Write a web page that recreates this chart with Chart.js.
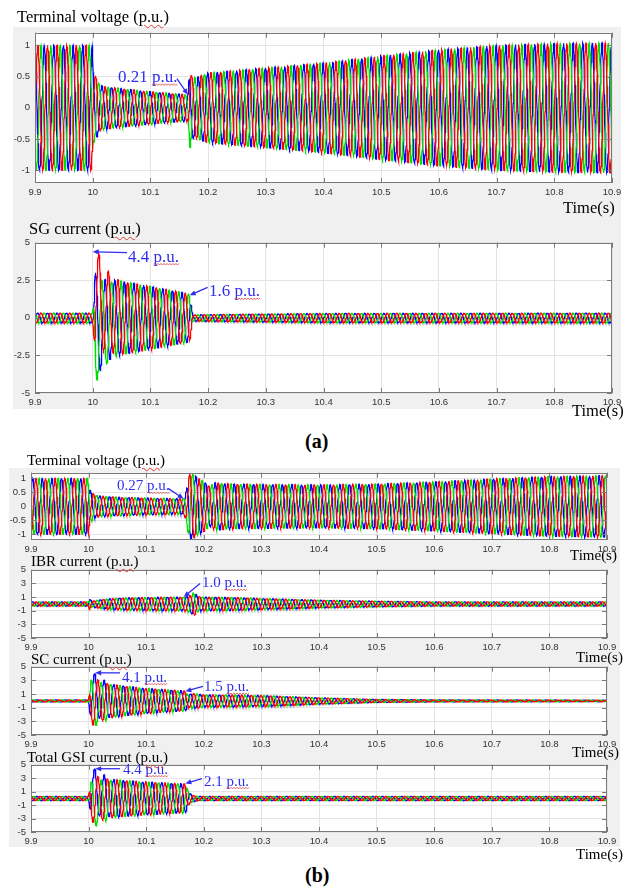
<!DOCTYPE html>
<html>
<head>
<meta charset="utf-8">
<script src="https://cdn.jsdelivr.net/npm/chart.js@4.4.0/dist/chart.umd.min.js"></script>
<style>
  body { margin: 0; width: 634px; height: 889px; position: relative; overflow: hidden; background: #fff;
         font-family: "Liberation Serif", "Times New Roman", serif; }
  .panel { position: absolute; background: #f0f0f0; }
  .lbl { position: absolute; white-space: nowrap; line-height: 1; color: #000; }
  .pu { text-decoration: underline wavy #e03a3a; text-decoration-thickness: 1px; text-underline-offset: 2px; }
  canvas { position: absolute; left: 0; }
</style>
</head>
<body>
<div class="panel" style="left:13px;top:27px;width:608px;height:382px"></div>
<div class="panel" style="left:9px;top:468px;width:611px;height:379px"></div>

<canvas id="c1"></canvas>
<canvas id="c2"></canvas>
<canvas id="c3"></canvas>
<canvas id="c4"></canvas>
<canvas id="c5"></canvas>
<canvas id="c6"></canvas>

<script>
// --- values ------------------------------------------------------------
const FREQ = 60;             // Hz, 6 cycles per 0.1 s in every panel
const T0 = 9.9, T1 = 10.9;

const xTicks = [9.9, 10.0, 10.1, 10.2, 10.3, 10.4, 10.5, 10.6, 10.7, 10.8, 10.9];
const xTickLabels = ['9.9', '10', '10.1', '10.2', '10.3', '10.4', '10.5', '10.6', '10.7', '10.8', '10.9'];
const voltTicks = [-1, -0.5, 0, 0.5, 1];
const voltTickLabels = ['-1', '-0.5', '0', '0.5', '1'];
const sgTicks = [-5, -2.5, 0, 2.5, 5];
const sgTickLabels = ['-5', '-2.5', '0', '2.5', '5'];
const curTicks = [-5, -3, -1, 1, 3, 5];
const curTickLabels = ['-5', '-3', '-1', '1', '3', '5'];

const phaseNames = ['a', 'b', 'c'];

// (a) terminal voltage: envelope amplitude (p.u.) at time points
const vaTime = [9.9, 10.0, 10.001, 10.006, 10.012, 10.02, 10.05, 10.1, 10.165, 10.1685, 10.172, 10.18, 10.19, 10.2, 10.3, 10.4, 10.5, 10.6, 10.7, 10.8, 10.9];
const vaAmp  = [1.0, 1.0, 0.56, 0.5, 0.37, 0.34, 0.31, 0.26, 0.21, 0.65, 0.5, 0.48, 0.53, 0.56, 0.64, 0.72, 0.83, 0.93, 1.0, 1.03, 1.04];
const vaCrest = 10.005;   // time of a phase-a crest

// (a) SG current
const sgTime = [9.9, 10.0, 10.004, 10.012, 10.02, 10.05, 10.1, 10.168, 10.173, 10.2, 10.4, 10.9];
const sgAmp  = [0.32, 0.32, 3.4, 3.3, 2.75, 2.45, 2.1, 1.6, 0.2, 0.22, 0.3, 0.32];
const sgOffTime = [10.0, 10.004, 10.02, 10.045];
const sgOffA = [0, 1.3, 0.6, 0];
const sgOffB = [0, -0.9, -0.4, 0];
const sgOffC = [0, -0.4, -0.2, 0];
const sgCrest = 10.0105;

// (b) terminal voltage
const vbTime = [9.9, 10.0, 10.001, 10.004, 10.01, 10.02, 10.05, 10.1, 10.165, 10.169, 10.175, 10.18, 10.19, 10.2, 10.21, 10.22, 10.25, 10.4, 10.5, 10.6, 10.7, 10.8, 10.9];
const vbAmp  = [1.0, 1.0, 0.62, 0.55, 0.42, 0.37, 0.33, 0.3, 0.27, 0.5, 1.2, 1.2, 1.0, 0.9, 0.72, 0.85, 0.8, 0.77, 0.8, 0.88, 0.98, 1.07, 1.1];
const vbCrest = 10.0086;

// (b) IBR current
const ibrTime = [9.9, 10.0, 10.001, 10.006, 10.02, 10.05, 10.1, 10.165, 10.176, 10.183, 10.19, 10.2, 10.25, 10.3, 10.4, 10.5, 10.6, 10.9];
const ibrAmp  = [0.3, 0.3, 0.8, 0.4, 0.6, 0.85, 0.95, 1.0, 1.2, 1.7, 1.1, 1.0, 0.95, 0.8, 0.55, 0.4, 0.3, 0.3];
const ibrCrest = 10.0093;

// (b) SC current
const scTime = [9.9, 10.0, 10.004, 10.012, 10.02, 10.05, 10.1, 10.168, 10.172, 10.18, 10.19, 10.2, 10.3, 10.4, 10.5, 10.6, 10.9];
const scAmp  = [0.15, 0.15, 3.5, 3.4, 2.9, 2.3, 1.85, 1.45, 0.9, 1.1, 1.0, 0.9, 0.8, 0.45, 0.22, 0.15, 0.12];
const scOffTime = [10.0, 10.004, 10.02, 10.045];
const scOffA = [0, -0.1, -0.05, 0];
const scOffB = [0, -0.4, -0.2, 0];
const scOffC = [0, 0.8, 0.4, 0];
const scCrest = 10.0161;

// (b) total GSI current
const gsiTime = [9.9, 10.0, 10.004, 10.012, 10.03, 10.05, 10.1, 10.168, 10.174, 10.18, 10.19, 10.9];
const gsiAmp  = [0.3, 0.3, 3.5, 3.4, 3.0, 2.75, 2.45, 2.15, 0.9, 0.5, 0.3, 0.3];
const gsiOffTime = [10.0, 10.004, 10.02, 10.045];
const gsiOffA = [0, -0.1, -0.05, 0];
const gsiOffB = [0, -1.0, -0.5, 0];
const gsiOffC = [0, 1.3, 0.6, 0];
const gsiCrest = 10.0161;

// --- helpers --------------------------------------------------------------
function interp(ts, vs, t) {
  if (t <= ts[0]) return vs[0];
  for (let i = 1; i < ts.length; i++) {
    if (t <= ts[i]) {
      const f = (t - ts[i - 1]) / (ts[i] - ts[i - 1]);
      return vs[i - 1] + f * (vs[i] - vs[i - 1]);
    }
  }
  return vs[vs.length - 1];
}

// three sinusoids under the read envelope, one per phase
function threePhase(times, amps, crest, offTime, offs) {
  const DT = 0.0004;
  const n = Math.round((T1 - T0) / DT);
  const out = [[], [], []];
  for (let i = 0; i <= n; i++) {
    const t = T0 + i * DT;
    const A = interp(times, amps, t);
    for (let k = 0; k < 3; k++) {
      const th = 2 * Math.PI * FREQ * (t - crest) - k * 2 * Math.PI / 3;
      const off = offTime ? interp(offTime, offs[k], t) : 0;
      out[k].push({ x: t, y: A * Math.cos(th) + off });
    }
  }
  return out;
}

const phaseColors = ['#ff0000', '#00dd00', '#0000ff'];

function wavy(ctx, x0, x1, y) {
  ctx.save();
  ctx.beginPath();
  ctx.moveTo(x0, y);
  let up = true;
  for (let x = x0 + 1.5; x <= x1; x += 1.5) { ctx.lineTo(x, y + (up ? -0.8 : 0.8)); up = !up; }
  ctx.strokeStyle = '#e04040';
  ctx.lineWidth = 0.8;
  ctx.stroke();
  ctx.restore();
}

const framePlugin = {
  id: 'frame',
  beforeDraw(chart) {
    const { ctx, chartArea: a } = chart;
    ctx.save();
    ctx.fillStyle = '#fff';
    ctx.fillRect(a.left, a.top, a.right - a.left, a.bottom - a.top);
    ctx.restore();
  },
  afterDatasetsDraw(chart, args, opts) {
    const { ctx, chartArea: a, scales } = chart;
    ctx.save();
    ctx.strokeStyle = '#7a7a7a';
    ctx.lineWidth = 1;
    ctx.strokeRect(Math.round(a.left) + 0.5, Math.round(a.top) + 0.5, Math.round(a.right - a.left) - 1, Math.round(a.bottom - a.top) - 1);
    ctx.beginPath();
    scales.x.ticks.forEach(t => {
      const x = Math.round(scales.x.getPixelForValue(t.value)) + 0.5;
      ctx.moveTo(x, a.bottom); ctx.lineTo(x, a.bottom - 5);
      ctx.moveTo(x, a.top); ctx.lineTo(x, a.top + 5);
    });
    scales.y.ticks.forEach(t => {
      const y = Math.round(scales.y.getPixelForValue(t.value)) + 0.5;
      ctx.moveTo(a.left, y); ctx.lineTo(a.left + 5, y);
      ctx.moveTo(a.right, y); ctx.lineTo(a.right - 5, y);
    });
    ctx.stroke();

    // blue value notes with arrows
    (opts.notes || []).forEach(n => {
      const px = scales.x.getPixelForValue(n.x);
      const py = scales.y.getPixelForValue(n.y);
      const blue = '#2f2ff0';
      ctx.font = n.size + 'px "Liberation Serif", "Times New Roman", serif';
      ctx.fillStyle = blue;
      ctx.textBaseline = 'alphabetic';
      ctx.textAlign = 'left';
      const tx = px + n.dx, ty = py + n.dy;
      ctx.fillText(n.text, tx, ty);
      const idx = n.text.indexOf('p.u.');
      const w0 = ctx.measureText(n.text.slice(0, idx)).width;
      const w1 = ctx.measureText(n.text).width;
      wavy(ctx, tx + w0, tx + w1, ty + 2.5);
      // arrow
      const sx = px + n.ax, sy = py + n.ay;
      const ang = Math.atan2(py - sy, px - sx);
      ctx.strokeStyle = blue;
      ctx.lineWidth = 1.3;
      ctx.beginPath();
      ctx.moveTo(sx, sy);
      ctx.lineTo(px - 4 * Math.cos(ang), py - 4 * Math.sin(ang));
      ctx.stroke();
      ctx.beginPath();
      ctx.moveTo(px, py);
      ctx.lineTo(px - 6 * Math.cos(ang) + 2.6 * Math.sin(ang), py - 6 * Math.sin(ang) - 2.6 * Math.cos(ang));
      ctx.lineTo(px - 6 * Math.cos(ang) - 2.6 * Math.sin(ang), py - 6 * Math.sin(ang) + 2.6 * Math.cos(ang));
      ctx.closePath();
      ctx.fillStyle = blue;
      ctx.fill();
    });
    ctx.restore();
  }
};

function makeChart(id, box, series, yMin, yMax, yTicks, yLabels, notes) {
  const cv = document.getElementById(id);
  const padTop = 10, xAxisH = 22;
  cv.width = 634;
  cv.height = box.bottom - box.top + padTop + xAxisH;
  cv.style.top = (box.top - padTop) + 'px';
  const tickFont = { family: '"Liberation Sans", Arial, sans-serif', size: 9.5 };
  new Chart(cv.getContext('2d'), {
    type: 'line',
    data: {
      datasets: series.map((pts, k) => ({
        label: phaseNames[k],
        data: pts,
        borderColor: phaseColors[k],
        borderWidth: 1.25,
        pointRadius: 0,
        fill: false,
        tension: 0
      }))
    },
    options: {
      responsive: false,
      animation: false,
      events: [],
      parsing: false,
      normalized: true,
      layout: { padding: { left: 0, right: 634 - box.right, top: padTop, bottom: 0 } },
      plugins: {
        legend: { display: false },
        tooltip: { enabled: false },
        frame: { notes: notes }
      },
      scales: {
        x: {
          type: 'linear', min: T0, max: T1,
          afterBuildTicks: s => { s.ticks = xTicks.map(v => ({ value: v })); },
          afterFit: s => { s.height = xAxisH; },
          ticks: { autoSkip: false, maxRotation: 0, padding: 4, font: tickFont, color: '#333',
                   callback: (v, i) => xTickLabels[i] },
          grid: { color: '#e4e4e4', drawTicks: false },
          border: { display: false }
        },
        y: {
          type: 'linear', min: yMin, max: yMax,
          afterBuildTicks: s => { s.ticks = yTicks.map(v => ({ value: v })); },
          afterFit: s => { s.width = box.left; },
          ticks: { autoSkip: false, padding: 5, font: tickFont, color: '#333', callback: (v, i) => yLabels[i] },
          grid: { color: '#e4e4e4', drawTicks: false },
          border: { display: false }
        }
      }
    },
    plugins: [framePlugin]
  });
}

makeChart('c1', { left: 35, right: 612, top: 32, bottom: 183 },
  threePhase(vaTime, vaAmp, vaCrest), -1.2, 1.2, voltTicks, voltTickLabels,
  [{ x: 10.165, y: 0.21, dx: -70, dy: -12.6, ax: -11, ay: -16, text: '0.21 p.u.', size: 17 }]);

makeChart('c2', { left: 35, right: 612, top: 242, bottom: 393 },
  threePhase(sgTime, sgAmp, sgCrest, sgOffTime, [sgOffA, sgOffB, sgOffC]), -5, 5, sgTicks, sgTickLabels,
  [{ x: 10.0, y: 4.4, dx: 35.3, dy: 10, ax: 34.3, ay: 1, text: '4.4 p.u.', size: 17 },
   { x: 10.168, y: 1.5, dx: 19.4, dy: 1, ax: 18, ay: -8, text: '1.6 p.u.', size: 17 }]);

makeChart('c3', { left: 31, right: 607, top: 472, bottom: 540 },
  threePhase(vbTime, vbAmp, vbCrest), -1.2, 1.2, voltTicks, voltTickLabels,
  [{ x: 10.165, y: 0.27, dx: -66.6, dy: -8.4, ax: -15.6, ay: -10.4, text: '0.27 p.u.', size: 15 }]);

makeChart('c4', { left: 31, right: 607, top: 569, bottom: 638 },
  threePhase(ibrTime, ibrAmp, ibrCrest), -5, 5, curTicks, curTickLabels,
  [{ x: 10.165, y: 1.0, dx: 18.4, dy: -9.6, ax: 16.4, ay: -13.6, text: '1.0 p.u.', size: 15 }]);

makeChart('c5', { left: 31, right: 607, top: 666, bottom: 735 },
  threePhase(scTime, scAmp, scCrest, scOffTime, [scOffA, scOffB, scOffC]), -5, 5, curTicks, curTickLabels,
  [{ x: 10.0114, y: 4.1, dx: 26.8, dy: 8.8, ax: 24.8, ay: 0, text: '4.1 p.u.', size: 15 },
   { x: 10.168, y: 1.4, dx: 18.6, dy: 0, ax: 17.6, ay: -4.8, text: '1.5 p.u.', size: 15 }]);

makeChart('c6', { left: 31, right: 607, top: 764, bottom: 832 },
  threePhase(gsiTime, gsiAmp, gsiCrest, gsiOffTime, [gsiOffA, gsiOffB, gsiOffC]), -5, 5, curTicks, curTickLabels,
  [{ x: 10.0114, y: 4.4, dx: 27.8, dy: 5, ax: 24.8, ay: 0, text: '4.4 p.u.', size: 15 },
   { x: 10.168, y: 2.2, dx: 18.6, dy: 2, ax: 16.6, ay: -5, text: '2.1 p.u.', size: 15 }]);

// --- text around the plots -------------------------------------------------
function addText(html, x, baseline, size, bold) {
  const d = document.createElement('div');
  d.className = 'lbl';
  d.innerHTML = html;
  d.style.left = x + 'px';
  d.style.fontSize = size + 'px';
  if (bold) d.style.fontWeight = 'bold';
  d.style.top = (baseline - 0.8375 * size) + 'px';
  document.body.appendChild(d);
}
const pu = '(<span class="pu">p.u.</span>)';
addText('Terminal voltage ' + pu, 17, 23, 16.5);
addText('SG current ' + pu, 29, 235, 16.5);
addText('Time(s)', 563, 214, 16.5);
addText('Time(s)', 572, 417, 16.5);
addText('(a)', 305, 448, 20, true);

addText('Terminal voltage ' + pu, 27, 466, 15);
addText('IBR current ' + pu, 31, 567, 15);
addText('SC current ' + pu, 31, 665, 15);
addText('Total GSI current ' + pu, 27, 763, 15);
addText('Time(s)', 570, 561, 15);
addText('Time(s)', 576, 663, 15);
addText('Time(s)', 572, 758, 15);
addText('Time(s)', 576, 860, 15);
addText('(b)', 305, 882, 20, true);
</script>
</body>
</html>
